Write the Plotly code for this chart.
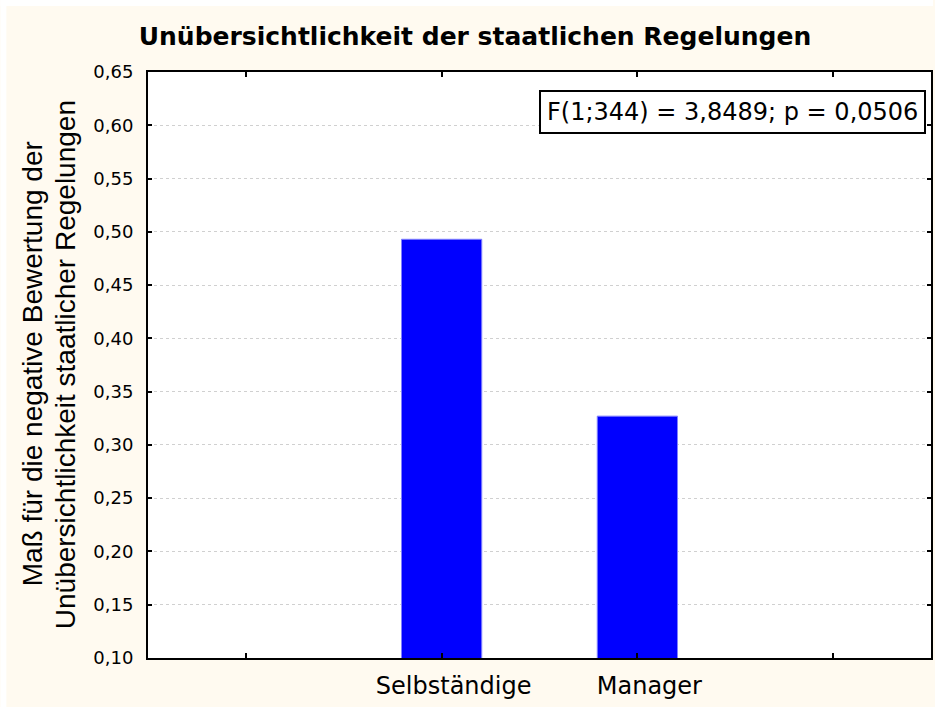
import plotly.graph_objects as go

# ---- data ----
categories = ["Selbständige", "Manager"]
values = [0.493, 0.327]
cat_positions = [1, 2]
tick_positions = [0, 1, 2, 3]
tick_labels = ["", "Selbständige", "Manager", ""]
y_ticks = [0.10, 0.15, 0.20, 0.25, 0.30, 0.35, 0.40, 0.45, 0.50, 0.55, 0.60, 0.65]
title_text = "Unübersichtlichkeit der staatlichen Regelungen"
ytitle_lines = ["Maß für die negative Bewertung der",
                "Unübersichtlichkeit staatlicher Regelungen"]
stat_text = "F(1;344) = 3,8489; p = 0,0506"

W, H = 935, 707
L, R, T, B = 148, 2, 72, 49
PW, PH = W - L - R, H - T - B

def px(xp):
    return (xp - L) / PW

def py(yp):
    return (H - B - yp) / PH

cream = "#fffaf0"

fig = go.Figure()
fig.add_trace(go.Bar(
    x=cat_positions, y=values, width=0.41,
    marker=dict(color="#0000ff", line=dict(color="#8080ff", width=1)),
    hovertext=categories, showlegend=False,
))

fig.update_layout(
    width=W, height=H,
    margin=dict(l=L, r=R, t=T, b=B, pad=0),
    paper_bgcolor=cream, plot_bgcolor="white",
    separators=", ",
    title=dict(text="<b>" + title_text + "</b>", x=475 / W, xref="container", xanchor="center",
               y=1 - 36 / H, yref="container", yanchor="middle",
               font=dict(family="DejaVu Sans", size=25, color="black")),
    font=dict(family="DejaVu Sans", color="black"),
    xaxis=dict(range=[-0.5, 3.5], tickvals=tick_positions, ticktext=tick_labels,
               showgrid=False, zeroline=False,
               showline=True, linecolor="black", linewidth=2, mirror="ticks",
               ticks="inside", ticklen=5, tickwidth=1.5, tickcolor="black",
               tickfont=dict(family="DejaVu Sans", size=24, color="black"),
               ticklabelshift=12, ticklabelstandoff=5),
    yaxis=dict(range=[0.10, 0.65], tickvals=y_ticks, tickformat=".2f",
               showgrid=True, gridcolor="#d0d0d0", gridwidth=1, griddash="dot",
               zeroline=False,
               showline=True, linecolor="black", linewidth=2, mirror="ticks",
               ticks="inside", ticklen=4, tickwidth=1.5, tickcolor="black",
               tickfont=dict(family="DejaVu Sans", size=18, color="black"),
               ticklabelstandoff=9),
    shapes=[
        dict(type="rect", xref="paper", yref="paper", x0=px(0), x1=px(6), y0=py(H), y1=py(0),
             fillcolor="white", line=dict(width=0), layer="above"),
        dict(type="rect", xref="paper", yref="paper", x0=px(0), x1=px(W), y0=py(6), y1=py(0),
             fillcolor="white", line=dict(width=0), layer="above"),
    ],
    annotations=[
        dict(text=stat_text, xref="paper", yref="paper", x=px(734), y=py(112),
             xanchor="center", yanchor="middle", showarrow=False,
             font=dict(family="DejaVu Sans", size=24, color="black"),
             bgcolor="white", bordercolor="black", borderwidth=2, borderpad=6),
        dict(text=ytitle_lines[0], xref="paper", yref="paper", x=px(32), y=py(364),
             xanchor="center", yanchor="middle", textangle=-90, showarrow=False,
             font=dict(family="Liberation Sans", size=28, color="black")),
        dict(text=ytitle_lines[1], xref="paper", yref="paper", x=px(65), y=py(365),
             xanchor="center", yanchor="middle", textangle=-90, showarrow=False,
             font=dict(family="Liberation Sans", size=28, color="black")),
    ],
)

fig.write_html("out.html", config={"displayModeBar": False},
               post_script="document.body.style.margin='0';")
